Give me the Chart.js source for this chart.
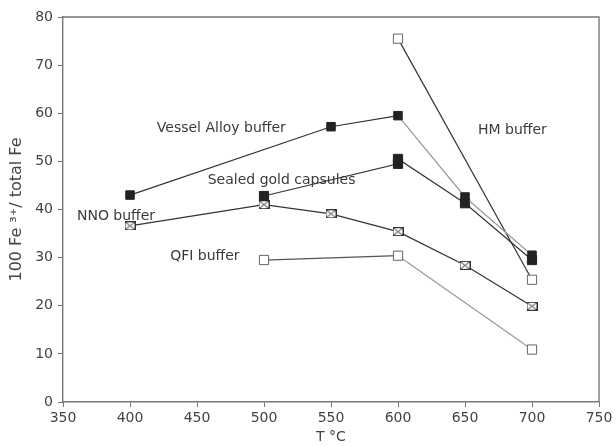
<!DOCTYPE html>
<html>
<head>
<meta charset="utf-8">
<script src="https://cdn.jsdelivr.net/npm/chart.js@4/dist/chart.umd.min.js"></script>
<style>
  html, body { margin: 0; padding: 0; background: #fff; }
  #wrap { width: 616px; height: 446px; }
</style>
</head>
<body>
<div id="wrap"><canvas id="chart" width="616" height="446"></canvas></div>
<script>
// temperatures (T °C) and 100 Fe3+/total Fe values
const vesselT = [400, 550, 600, 650, 700];
const vesselFe = [43, 57.2, 59.5, 42.6, 30.5];

const goldT = [500, 600, 600, 650, 700];
const goldFe = [42.8, 49.5, 50.5, 41.3, 29.5];

const nnoT = [400, 500, 550, 600, 650, 700];
const nnoFe = [36.6, 41, 39.1, 35.4, 28.4, 19.9];

const qfiT = [500, 600, 700];
const qfiFe = [29.5, 30.4, 10.9];

const hmT = [600, 700];
const hmFe = [75.5, 25.4];

const xTicks = [350, 400, 450, 500, 550, 600, 650, 700, 750];
const yTicks = [0, 10, 20, 30, 40, 50, 60, 70, 80];

// series names as written on the plot
const seriesNames = ['Vessel Alloy buffer', 'Sealed gold capsules', 'NNO buffer', 'QFI buffer', 'HM buffer'];

const FONT = '"DejaVu Sans", Verdana, sans-serif';

function pts(xs, ys) {
  return xs.map((x, i) => ({ x: x, y: ys[i] }));
}

// square with an X through it, for the NNO points
function crossedSquare() {
  const c = document.createElement('canvas');
  c.width = 11; c.height = 9;
  const g = c.getContext('2d');
  g.fillStyle = '#fff';
  g.fillRect(0.5, 0.5, 10, 8);
  g.strokeStyle = '#333';
  g.lineWidth = 1;
  g.strokeRect(0.5, 0.5, 10, 8);
  g.beginPath();
  g.moveTo(0.5, 0.5); g.lineTo(10.5, 8.5);
  g.moveTo(10.5, 0.5); g.lineTo(0.5, 8.5);
  g.stroke();
  return c;
}

// text labels placed next to the curves (in data units, left end / middle)
const curveLabels = [
  { text: seriesNames[0], x: 420, y: 56.9 },
  { text: seriesNames[1], x: 458, y: 46.1 },
  { text: seriesNames[2], x: 360.4, y: 38.6 },
  { text: seriesNames[3], x: 430, y: 30.3 },
  { text: seriesNames[4], x: 659.7, y: 56.5 }
];

const frameAndLabels = {
  id: 'frameAndLabels',
  afterDatasetsDraw(chart) {
    const { ctx, chartArea: a, scales } = chart;
    ctx.save();
    ctx.strokeStyle = '#777';
    ctx.lineWidth = 1.4;
    ctx.beginPath();
    ctx.moveTo(a.left, a.top);
    ctx.lineTo(a.right, a.top);
    ctx.lineTo(a.right, a.bottom);
    ctx.stroke();
    ctx.fillStyle = '#3a3a3a';
    ctx.font = '14px ' + FONT;
    ctx.textBaseline = 'middle';
    curveLabels.forEach(l => {
      ctx.fillText(l.text, scales.x.getPixelForValue(l.x), scales.y.getPixelForValue(l.y));
    });
    ctx.restore();
  }
};

const dark = '#333';
const light = '#999';

new Chart(document.getElementById('chart'), {
  type: 'line',
  data: {
    datasets: [
      {
        label: seriesNames[0],
        data: pts(vesselT, vesselFe),
        borderColor: dark,
        segment: { borderColor: c => c.p0.parsed.x >= 600 ? light : dark },
        pointStyle: 'rect',
        pointRadius: 6,
        pointBackgroundColor: '#222',
        pointBorderColor: '#222'
      },
      {
        label: seriesNames[1],
        data: pts(goldT, goldFe),
        borderColor: dark,
        pointStyle: 'rect',
        pointRadius: 6.5,
        pointBackgroundColor: '#222',
        pointBorderColor: '#222'
      },
      {
        label: seriesNames[2],
        data: pts(nnoT, nnoFe),
        borderColor: dark,
        pointStyle: crossedSquare()
      },
      {
        label: seriesNames[3],
        data: pts(qfiT, qfiFe),
        borderColor: '#555',
        segment: { borderColor: c => c.p0.parsed.x >= 600 ? light : '#555' },
        pointStyle: 'rect',
        pointRadius: 6.5,
        pointBackgroundColor: '#fff',
        pointBorderColor: '#666'
      },
      {
        label: seriesNames[4],
        data: pts(hmT, hmFe),
        borderColor: dark,
        pointStyle: 'rect',
        pointRadius: 6.5,
        pointBackgroundColor: '#fff',
        pointBorderColor: '#666'
      }
    ]
  },
  options: {
    responsive: false,
    animation: false,
    layout: { padding: { top: 17, right: 17, left: 0, bottom: 0 } },
    elements: {
      line: { borderWidth: 1.2, tension: 0 },
      point: { borderWidth: 1, hoverRadius: 6 }
    },
    plugins: {
      legend: { display: false },
      tooltip: { enabled: false }
    },
    scales: {
      x: {
        type: 'linear',
        min: 350,
        max: 750,
        afterBuildTicks: s => { s.ticks = xTicks.map(v => ({ value: v })); },
        afterFit: s => { s.height = 44; },
        grid: { drawOnChartArea: false, drawTicks: true, tickLength: 5, color: '#777' },
        border: { color: '#777', width: 1.4 },
        ticks: { color: '#444', font: { family: FONT, size: 14 }, padding: 3, maxRotation: 0 },
        title: { display: true, text: 'T °C', color: '#444', font: { family: FONT, size: 14 }, padding: 0 }
      },
      y: {
        min: 0,
        max: 80,
        afterBuildTicks: s => { s.ticks = yTicks.map(v => ({ value: v })); },
        afterFit: s => { s.width = 63; },
        grid: { drawOnChartArea: false, drawTicks: true, tickLength: 5, color: '#777' },
        border: { color: '#777', width: 1.4 },
        ticks: { color: '#444', font: { family: FONT, size: 14 }, padding: 5 },
        title: { display: true, text: '100 Fe ³⁺/ total Fe', color: '#444', font: { family: FONT, size: 16 }, padding: { top: 7, bottom: 0 } }
      }
    }
  },
  plugins: [frameAndLabels]
});
</script>
</body>
</html>
